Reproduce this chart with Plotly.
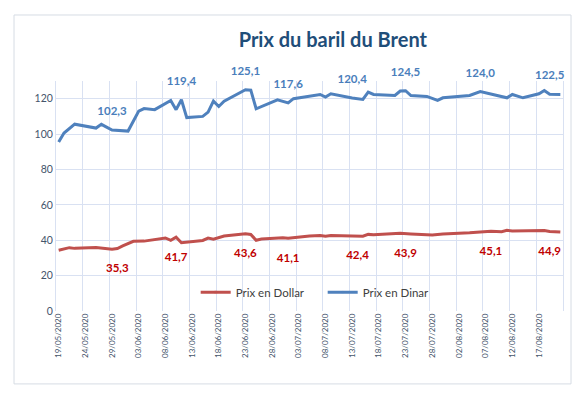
import plotly.graph_objects as go
import pandas as pd

# Category axis: every calendar day from 19/05/2020 to 21/08/2020
categories = list(pd.date_range("2020-05-19", "2020-08-21", freq="D").strftime("%d/%m/%Y"))

# Prix en Dinar (day index from 19/05/2020, value)
dinar_days = [0, 1, 3, 7, 8, 10, 13, 15, 16, 18, 21, 22, 23, 24, 27, 28, 29, 30, 31,
              35, 36, 37, 41, 43, 44, 49, 50, 51, 55, 57, 58, 59, 63, 64, 65, 66,
              69, 71, 72, 77, 79, 84, 85, 87, 90, 91, 92, 93, 94]
dinar_values = [95.5, 100.6, 105.6, 103.4, 105.5, 102.3, 101.7, 113.0, 114.4, 113.8,
                119.0, 113.8, 119.4, 109.3, 110.0, 112.4, 118.6, 115.6, 118.6,
                125.1, 124.8, 114.3, 119.3, 117.6, 120.0, 122.4, 120.9, 122.8,
                120.4, 119.6, 123.7, 122.4, 121.8, 124.3, 124.5, 121.8,
                121.3, 119.0, 120.5, 121.8, 124.0, 120.5, 122.4, 120.5,
                122.8, 124.6, 122.5, 122.4, 122.4]
dinar_label_days = [10, 23, 35, 43, 55, 65, 79, 92]

# Prix en Dollar
dollar_days = [0, 2, 3, 7, 10, 11, 12, 14, 16, 20, 21, 22, 23, 27, 28, 29, 31,
               35, 36, 37, 38, 42, 43, 45, 47, 49, 50, 51, 56, 57, 58, 59,
               64, 65, 66, 70, 72, 77, 79, 81, 83, 84, 85, 90, 91, 92, 94]
dollar_values = [34.3, 35.8, 35.4, 35.9, 34.9, 35.3, 36.8, 39.4, 39.5, 41.3, 39.9,
                 41.7, 38.6, 39.9, 41.2, 40.6, 42.4,
                 43.6, 43.3, 40.0, 40.7, 41.4, 41.1, 41.9, 42.4, 42.7, 42.3, 42.7,
                 42.4, 42.3, 43.3, 43.1,
                 43.9, 43.9, 43.5, 42.9, 43.5, 44.2, 44.7, 45.1, 44.8, 45.6, 45.2,
                 45.5, 45.5, 44.9, 44.6]
dollar_label_days = [11, 22, 35, 43, 56, 65, 81, 92]

y_ticks = [0, 20, 40, 60, 80, 100, 120]

GRID = "#D9E1F2"
AXIS_TXT = "#44546A"
FONT = "Lato, 'Open Sans', sans-serif"

# page body has an 8px margin: figure is sized/offset to compensate
W, H = 577, 388


def labels(days, values, keep):
    return [f"{v:.1f}".replace(".", ",") if d in keep else "" for d, v in zip(days, values)]


def pad(days, keep, size):
    return [size if d in keep else 0 for d in days]


fig = go.Figure()
fig.add_trace(go.Scatter(
    x=[categories[d] for d in dollar_days], y=dollar_values,
    mode="lines+markers+text", name="Prix en Dollar",
    line=dict(color="#C0504D", width=3),
    marker=dict(size=pad(dollar_days, dollar_label_days, 22), opacity=0,
                line=dict(width=0)),
    text=labels(dollar_days, dollar_values, dollar_label_days),
    textposition="bottom center",
    textfont=dict(color="#C00000", size=11.5, family=FONT, weight="bold"),
    cliponaxis=False,
))
fig.add_trace(go.Scatter(
    x=[categories[d] for d in dinar_days], y=dinar_values,
    mode="lines+markers+text", name="Prix en Dinar",
    line=dict(color="#4F81BD", width=3),
    marker=dict(size=pad(dinar_days, dinar_label_days, 18), opacity=0,
                line=dict(width=0)),
    text=labels(dinar_days, dinar_values, dinar_label_days),
    textposition="top center",
    textfont=dict(color="#4A7EBB", size=11.5, family=FONT, weight="bold"),
    cliponaxis=False,
))

fig.update_layout(
    width=W, height=H,
    margin=dict(l=48, r=22, t=73, b=85),
    paper_bgcolor="white", plot_bgcolor="white",
    separators=", ",
    font=dict(family=FONT, color=AXIS_TXT),
    title=dict(text="<b>Prix du baril du Brent</b>", x=0.546, xref="paper", xanchor="center",
               y=1 - 32 / H, yref="container", yanchor="middle",
               font=dict(size=20, color="#1F4E79", family=FONT)),
    showlegend=True,
    legend=dict(orientation="h", x=0.526, xanchor="center", y=0.082, yanchor="middle",
                bgcolor="rgba(0,0,0,0)", font=dict(size=11.5, color="#404040", family=FONT),
                itemwidth=30, entrywidth=82, entrywidthmode="pixels"),
    xaxis=dict(type="category", categoryorder="array", categoryarray=categories,
               tickmode="linear", tick0=0, dtick=5, tickson="boundaries",
               range=[-0.5, len(categories) - 0.5],
               showgrid=True, gridcolor=GRID, gridwidth=1, ticks="",
               tickangle=-90, tickfont=dict(size=8, color=AXIS_TXT, family=FONT),
               showline=False, zeroline=False),
    yaxis=dict(range=[0, 130], tickmode="array", tickvals=y_ticks,
               showgrid=True, gridcolor=GRID, gridwidth=1, zeroline=False,
               showline=True, mirror=True, linecolor=GRID, linewidth=1, ticks="",
               tickfont=dict(size=10.5, color=AXIS_TXT, family=FONT)),
    shapes=[dict(type="rect", xref="paper", yref="paper",
                 x0=-0.0828, x1=1.0158, y0=-0.317, y1=1.287,
                 line=dict(color="#D6DCE4", width=1), fillcolor="rgba(0,0,0,0)", layer="below")],
)

fig.write_html("out.html")
